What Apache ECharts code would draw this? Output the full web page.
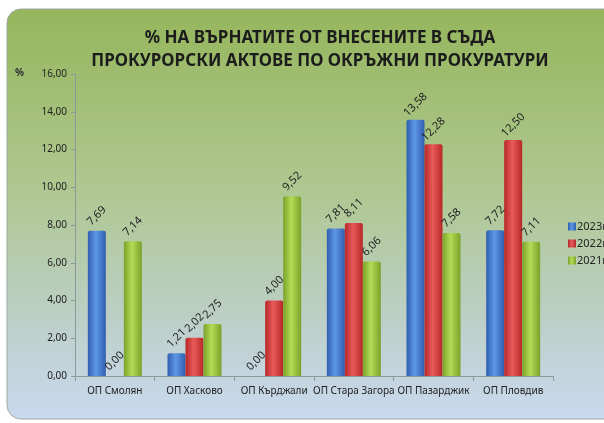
<!DOCTYPE html>
<html>
<head>
<meta charset="utf-8">
<script src="https://cdn.jsdelivr.net/npm/echarts@6/dist/echarts.min.js"></script>
<style>
html, body { margin: 0; padding: 0; background: #fff; }
#main { width: 604px; height: 423px; }
</style>
</head>
<body>
<div id="main"></div>
<script>
// данни
var categories = ['ОП Смолян', 'ОП Хасково', 'ОП Кърджали', 'ОП Стара Загора', 'ОП Пазарджик', 'ОП Пловдив'];
var years = ['2023г.', '2022г.', '2021г.'];
var v2023 = [7.69, 1.21, 0.00, 7.81, 13.58, 7.72];
var v2022 = [0.00, 2.02, 4.00, 8.11, 12.28, 12.50];
var v2021 = [7.14, 2.75, 9.52, 6.06, 7.58, 7.11];
var yTicks = [0, 2, 4, 6, 8, 10, 12, 14, 16];

// цилиндричен градиент за колоните
function barGrad(dark, light) {
    return new echarts.graphic.LinearGradient(0, 0, 1, 0, [
        { offset: 0, color: dark },
        { offset: 0.45, color: light },
        { offset: 1, color: dark }
    ]);
}
function comma(v) {
    return v.toFixed(2).replace('.', ',');
}

var font = '"Noto Sans", sans-serif';
var lbl = {
    show: true,
    position: 'top',
    rotate: 45,
    align: 'center',
    verticalAlign: 'middle',
    distance: 15,
    color: '#222',
    fontSize: 11,
    fontFamily: font,
    formatter: function (p) { return comma(p.value); }
};

function mkSeries(name, data, dark, light) {
    return {
        name: name,
        type: 'bar',
        data: data,
        barWidth: 18,
        barGap: '0%',
        itemStyle: { color: barGrad(dark, light), borderRadius: [2, 2, 0, 0] },
        label: lbl
    };
}

var myChart = echarts.init(document.getElementById('main'));
var option = {
    animation: false,
    color: ['#3f74c8', '#d23434', '#97c43a'],
    graphic: [{
        type: 'rect',
        z: -10,
        shape: { x: 7, y: 9, width: 620, height: 410, r: 14 },
        style: {
            fill: new echarts.graphic.LinearGradient(0, 0, 0, 1, [
                { offset: 0, color: '#95b65c' },
                { offset: 0.45, color: '#afc892' },
                { offset: 0.75, color: '#bccfc6' },
                { offset: 1, color: '#c9d9f0' }
            ]),
            stroke: '#a0a8a0',
            lineWidth: 1
        }
    }, {
        type: 'text',
        left: 15,
        top: 68,
        style: { text: '%', fontSize: 10, fontWeight: 'bold', fill: '#333', fontFamily: font }
    }],
    title: {
        text: '% НА ВЪРНАТИТЕ ОТ ВНЕСЕНИТЕ В СЪДА\nПРОКУРОРСКИ АКТОВЕ ПО ОКРЪЖНИ ПРОКУРАТУРИ',
        left: 315,
        textAlign: 'center',
        top: 22,
        textStyle: {
            fontFamily: '"Liberation Sans Narrow", "Noto Sans", sans-serif',
            fontSize: 17,
            fontWeight: 'bold',
            color: '#1c1c1c',
            lineHeight: 23
        }
    },
    legend: {
        orient: 'vertical',
        left: 563,
        top: 216,
        itemWidth: 8,
        itemHeight: 8,
        itemGap: 6,
        icon: 'rect',
        data: years,
        textStyle: { fontSize: 11, color: '#222', fontFamily: font, padding: [0, 0, 0, -4] }
    },
    grid: { left: 75, right: 51, top: 74, bottom: 47 },
    xAxis: {
        type: 'category',
        data: categories,
        axisLine: { lineStyle: { color: '#8a9a9a' } },
        axisTick: { show: true, length: 5, lineStyle: { color: '#8a9a9a' } },
        axisLabel: { fontSize: 10, color: '#222', fontFamily: font, margin: 10, interval: 0 }
    },
    yAxis: {
        type: 'value',
        min: yTicks[0],
        max: yTicks[yTicks.length - 1],
        interval: 2,
        axisLine: { show: true, lineStyle: { color: '#8a9a9a' } },
        axisTick: { show: true, length: 4, lineStyle: { color: '#8a9a9a' } },
        splitLine: { show: false },
        axisLabel: {
            fontSize: 10, color: '#222', fontFamily: font, margin: 8,
            formatter: function (v) { return comma(v); }
        }
    },
    series: [
        mkSeries(years[0], v2023, '#2f5fae', '#5e97e6'),
        mkSeries(years[1], v2022, '#b82727', '#e85a5a'),
        mkSeries(years[2], v2021, '#7aa22a', '#b3dc55')
    ]
};
myChart.setOption(option);
</script>
</body>
</html>
